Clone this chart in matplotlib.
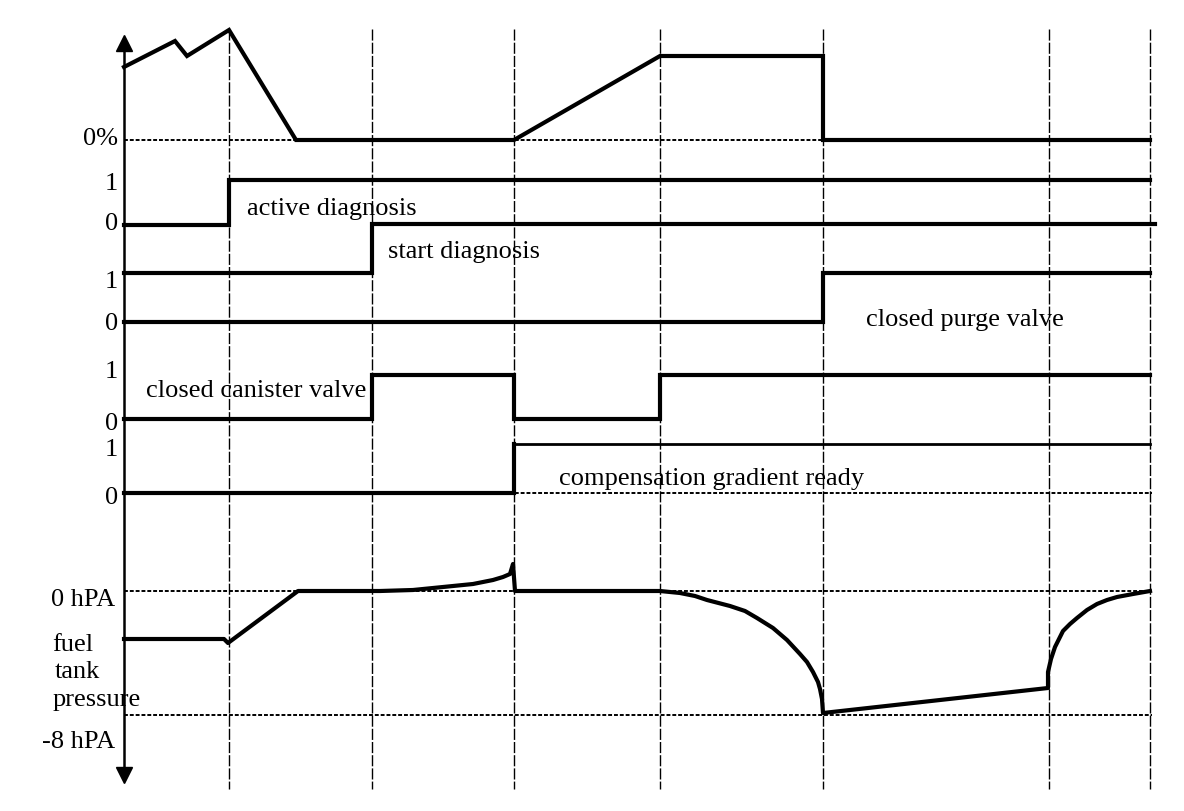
import matplotlib
matplotlib.use("Agg")
import matplotlib.pyplot as plt

# timing diagram, units (x = time position, y = trace level)
event_times = [229, 372, 514, 660, 823, 1049, 1150]

purge_t = [124, 175, 187, 229, 296, 514, 660, 823, 823, 1150]
purge_y = [68, 42, 57, 31, 141, 141, 57, 57, 141, 141]

active_t = [124, 229, 229, 1150]
active_y = [226, 226, 181, 181]

start_t = [124, 372, 372, 1155]
start_y = [274, 274, 225, 225]

purge_valve_t = [124, 823, 823, 1150]
purge_valve_y = [323, 323, 274, 274]

canister_t = [124, 372, 372, 514, 514, 660, 660, 1150]
canister_y = [420, 420, 376, 376, 420, 420, 376, 376]

comp_t = [124, 514, 514]
comp_y = [494, 494, 445]
comp_high_t = [514, 1150]
comp_high_y = [445, 445]

pressure_t = [124, 224, 228, 298, 380, 413, 443, 473, 493, 503, 510, 513, 515, 660, 680,
              695, 707, 730, 745, 757, 773, 787, 800, 807, 813, 818, 820, 822, 823,
              1048, 1048, 1051, 1055, 1063, 1070, 1077, 1087, 1097, 1107, 1117, 1133, 1150]
pressure_y = [640, 640, 644, 592, 592, 591, 588, 585, 581, 578, 575, 565, 592, 592, 594,
              597, 601, 607, 612, 619, 629, 641, 655, 663, 673, 683, 690, 700, 714,
              689, 673, 660, 648, 632, 625, 619, 611, 605, 601, 598, 595, 592]

grid_levels = [141, 494, 592, 716]

level_labels = ["0%", "1", "0", "1", "0", "1", "0", "1", "0"]
level_label_y = [139, 184, 224, 282, 324, 372, 424, 450, 498]

signal_names = ["active diagnosis", "start diagnosis", "closed purge valve",
                "closed canister valve", "compensation gradient ready"]
signal_name_x = [247, 388, 866, 146, 559]
signal_name_y = [215, 258, 326, 397, 485]

pressure_labels = ["0 hPA", "-8 hPA"]
pressure_label_y = [600, 742]
pressure_title = ["fuel", "tank", "pressure"]
pressure_title_x = [52, 55, 53]
pressure_title_y = [645, 672, 700]

plt.rcParams["font.family"] = ["Liberation Serif", "DejaVu Serif"]

fig = plt.figure(figsize=(11.84, 8.12), dpi=100)
ax = fig.add_axes([0, 0, 1, 1])
ax.set_xlim(0, 1184)
ax.set_ylim(812, 0)
ax.axis("off")

grid_style = dict(color="black", linewidth=1.0, linestyle=(0, (8, 1.5)))
for t in event_times:
    ax.plot([t, t], [30, 790], **grid_style)
for lv in grid_levels:
    ax.plot([124, 1152], [lv, lv], color="black", linewidth=1.4, linestyle=(0, (2, 1)))

# vertical axis with arrows
ax.plot([124, 124], [45, 775], color="black", linewidth=1.8)
ax.plot([124], [44], marker="^", color="black", markersize=11)
ax.plot([124], [776], marker="v", color="black", markersize=11)

sig = dict(color="black", linewidth=3.0, solid_joinstyle="miter")
ax.plot(purge_t, purge_y, **sig)
ax.plot(active_t, active_y, **sig)
ax.plot(start_t, start_y, **sig)
ax.plot(purge_valve_t, purge_valve_y, **sig)
ax.plot(canister_t, canister_y, **sig)
ax.plot(comp_t, comp_y, **sig)
ax.plot(comp_high_t, comp_high_y, color="black", linewidth=2.0)
ax.plot(pressure_t, pressure_y, color="black", linewidth=3.0, solid_joinstyle="round")

fs = 19
for lab, y in zip(level_labels, level_label_y):
    ax.text(118, y, lab, ha="right", va="center", fontsize=fs)

for name, x, y in zip(signal_names, signal_name_x, signal_name_y):
    ax.text(x, y, name, ha="left", va="baseline", fontsize=fs)

for lab, y in zip(pressure_labels, pressure_label_y):
    ax.text(115, y, lab, ha="right", va="center", fontsize=fs)
for lab, x, y in zip(pressure_title, pressure_title_x, pressure_title_y):
    ax.text(x, y, lab, ha="left", va="center", fontsize=fs)

fig.savefig("out.png", dpi=100)
